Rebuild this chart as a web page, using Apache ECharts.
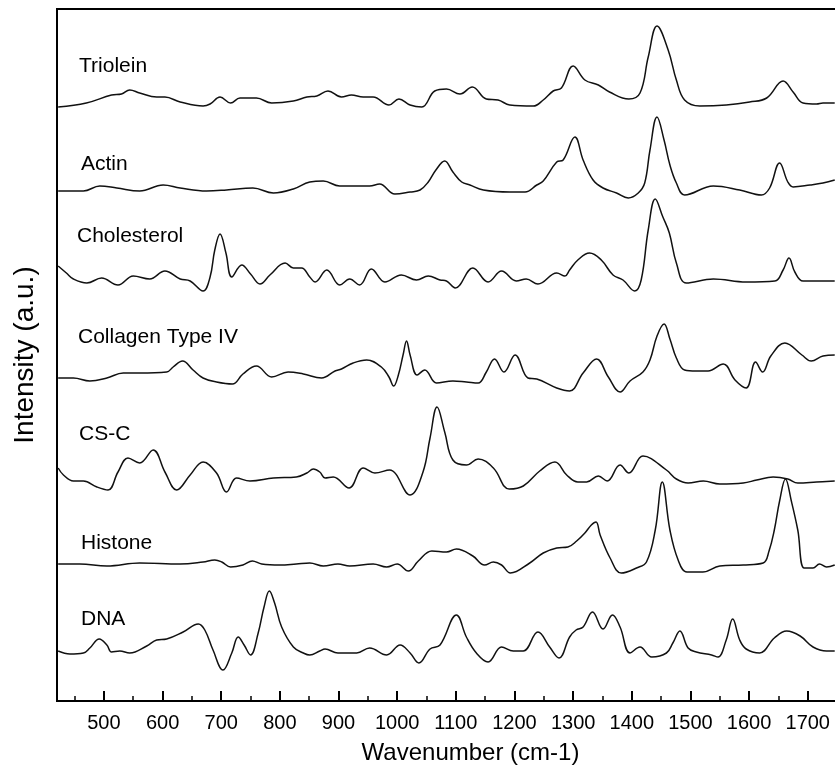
<!DOCTYPE html>
<html>
<head>
<meta charset="utf-8">
<script src="https://cdn.jsdelivr.net/npm/echarts@6/dist/echarts.min.js"></script>
<style>
  html, body { margin: 0; padding: 0; background: #fff; }
  #chart { width: 835px; height: 775px; }
</style>
</head>
<body>
<div id="chart"></div>
<script>
// wavenumber axis range (cm-1) and y range (a.u.)
const wavenumberRange = [420, 1830]
const intensityRange = [0, 692]

const spectrumNames = ['Triolein', 'Actin', 'Cholesterol', 'Collagen Type IV', 'CS-C', 'Histone', 'DNA']

// [wavenumber, intensity], spectra already offset
const triolein = [[422,594],[470,598],[513,606],[530,607],[544,611],[561,608],[590,604],[604,604],[630,599],[669,595],[681,597],[698,604],[716,598],[732,603],[760,603],[786,598],[823,600],[846,604],[863,605],[882,610],[905,604],[922,606],[942,604],[959,604],[986,596],[1003,602],[1022,596],[1042,594],[1064,610],[1084,612],[1107,607],[1128,614],[1152,602],[1172,601],[1192,596],[1232,595],[1249,601],[1266,610],[1280,613],[1300,635],[1320,621],[1343,616],[1362,609],[1395,602],[1414,608],[1428,644],[1443,675],[1462,651],[1476,621],[1490,601],[1516,595],[1561,596],[1601,599],[1630,603],[1658,620],[1675,609],[1692,598],[1715,597],[1726,598],[1746,598]]

const actin = [[422,510],[465,510],[493,515],[522,513],[561,510],[601,516],[630,513],[675,510],[709,511],[754,513],[789,508],[823,512],[851,519],[874,520],[902,515],[953,515],[970,517],[996,507],[1022,509],[1039,511],[1053,519],[1066,531],[1081,540],[1095,529],[1110,519],[1124,516],[1147,511],[1192,509],[1218,509],[1238,516],[1249,520],[1272,539],[1283,541],[1303,564],[1317,541],[1334,521],[1351,513],[1374,508],[1394,503],[1411,508],[1422,518],[1431,551],[1443,584],[1455,561],[1465,536],[1476,518],[1490,506],[1539,515],[1584,511],[1621,506],[1635,513],[1652,538],[1666,519],[1675,514],[1704,516],[1726,518],[1746,521]]

const cholesterol = [[422,435],[436,428],[448,422],[471,418],[496,423],[524,416],[550,425],[578,422],[604,430],[630,422],[647,420],[669,410],[681,424],[689,451],[698,467],[708,448],[718,424],[735,436],[750,427],[766,417],[783,426],[809,438],[823,433],[837,433],[851,424],[860,419],[880,431],[902,416],[919,422],[936,416],[956,432],[979,419],[1007,426],[1033,421],[1053,425],[1073,421],[1084,420],[1099,413],[1129,433],[1155,419],[1178,430],[1203,420],[1220,422],[1240,417],[1272,428],[1286,425],[1294,431],[1308,441],[1328,448],[1348,441],[1368,426],[1385,421],[1405,410],[1416,421],[1428,471],[1440,502],[1453,484],[1464,468],[1476,438],[1493,418],[1539,422],[1595,419],[1644,420],[1658,431],[1668,443],[1678,429],[1692,420],[1746,420]]

const collagenIV = [[422,323],[448,323],[476,320],[505,323],[533,328],[561,328],[607,329],[618,334],[634,340],[652,331],[669,323],[692,319],[719,317],[737,327],[760,335],[786,324],[814,329],[840,327],[871,323],[894,330],[905,332],[925,338],[948,341],[973,334],[986,324],[994,315],[1002,326],[1010,346],[1016,360],[1022,346],[1034,326],[1047,331],[1067,318],[1095,320],[1118,319],[1138,318],[1152,329],[1166,342],[1182,329],[1201,346],[1223,323],[1238,322],[1272,313],[1294,310],[1317,328],[1340,342],[1360,324],[1380,309],[1397,320],[1419,329],[1431,341],[1443,365],[1455,377],[1465,362],[1476,343],[1490,331],[1510,330],[1530,330],[1556,337],[1576,321],[1595,313],[1611,339],[1623,329],[1637,345],[1661,358],[1690,346],[1706,340],[1726,345],[1746,346]]

const csc = [[422,233],[431,226],[448,220],[465,220],[488,214],[507,211],[524,229],[541,243],[561,238],[584,251],[604,229],[624,211],[647,226],[669,239],[692,228],[709,209],[726,223],[749,220],[789,223],[828,224],[846,228],[857,232],[868,229],[877,223],[891,224],[918,213],[942,233],[962,228],[987,231],[1022,206],[1044,229],[1056,263],[1068,294],[1081,269],[1095,241],[1118,236],[1138,242],[1164,233],[1191,212],[1215,215],[1243,230],[1269,239],[1289,226],[1308,219],[1323,219],[1343,225],[1358,220],[1380,236],[1395,228],[1419,245],[1459,231],[1476,222],[1496,218],[1522,220],[1550,217],[1590,218],[1613,221],[1641,224],[1666,222],[1683,218],[1715,219],[1746,220]]

const histone = [[422,137],[459,137],[505,135],[561,138],[630,137],[669,139],[689,141],[701,139],[716,134],[737,136],[753,140],[769,137],[800,136],[828,137],[851,138],[874,135],[899,137],[919,135],[959,137],[982,134],[1000,137],[1019,130],[1036,140],[1059,150],[1084,149],[1101,152],[1129,145],[1149,136],[1164,139],[1178,136],[1193,128],[1226,138],[1249,148],[1272,153],[1291,154],[1306,160],[1320,168],[1331,176],[1339,179],[1346,166],[1363,143],[1382,128],[1408,133],[1425,139],[1440,171],[1452,219],[1465,171],[1479,141],[1494,129],[1521,129],[1550,135],[1590,136],[1624,138],[1634,150],[1643,171],[1652,200],[1662,222],[1672,200],[1683,171],[1694,133],[1709,133],[1720,137],[1732,134],[1746,136]]

const dna = [[422,50],[442,47],[465,48],[476,53],[492,62],[505,56],[513,49],[527,50],[544,48],[573,55],[590,61],[607,62],[635,69],[661,77],[672,71],[686,51],[703,31],[718,48],[729,64],[739,56],[750,46],[763,68],[773,94],[782,110],[791,98],[803,74],[823,54],[840,48],[851,46],[868,50],[877,52],[899,48],[931,48],[953,53],[982,46],[1005,56],[1022,48],[1037,38],[1056,52],[1073,56],[1101,86],[1118,64],[1135,48],[1155,39],[1178,54],[1198,50],[1215,50],[1240,69],[1260,54],[1276,43],[1294,64],[1305,71],[1317,74],[1333,89],[1351,72],[1367,86],[1380,74],[1397,48],[1414,54],[1434,44],[1459,48],[1470,58],[1482,70],[1496,53],[1510,49],[1536,46],[1547,44],[1561,61],[1572,82],[1584,61],[1595,52],[1618,48],[1643,63],[1664,70],[1687,65],[1709,54],[1732,50],[1746,50]]

const spectra = [triolein, actin, cholesterol, collagenIV, csc, histone, dna]

// where each name sits (px), left edge / cap centre
const labelAnchors = [[79, 66], [81, 164], [77, 236], [78, 337], [79, 434], [81, 543], [81, 619]]

const font = '"Liberation Sans", Arial, Helvetica, sans-serif'

const chart = echarts.init(document.getElementById('chart'))

chart.setOption({
  animation: false,
  grid: {
    left: 57, top: 9, width: 827, height: 692,
    outerBoundsMode: 'none',
    containLabel: false,
    show: true, borderColor: '#000', borderWidth: 2, backgroundColor: 'transparent'
  },
  xAxis: {
    type: 'value',
    min: wavenumberRange[0],
    max: wavenumberRange[1],
    splitNumber: 14,
    name: 'Wavenumber (cm-1)',
    nameLocation: 'middle',
    nameGap: 40,
    nameTextStyle: { color: '#000', fontSize: 24, fontFamily: font },
    axisLine: { onZero: false, lineStyle: { color: '#000', width: 2 } },
    axisTick: { inside: true, length: 10, lineStyle: { color: '#000', width: 2 } },
    minorTick: { show: true, splitNumber: 2, length: 5, lineStyle: { color: '#000', width: 1.5 } },
    axisLabel: {
      color: '#000', fontSize: 20, margin: 12, fontFamily: font,
      showMinLabel: false, showMaxLabel: false,
      formatter: v => String(v)
    },
    splitLine: { show: false },
    minorSplitLine: { show: false }
  },
  yAxis: {
    type: 'value',
    min: intensityRange[0],
    max: intensityRange[1],
    name: 'Intensity (a.u.)',
    nameLocation: 'middle',
    nameGap: 18,
    nameTextStyle: { color: '#000', fontSize: 28, fontFamily: font },
    axisLine: { show: true, onZero: false, lineStyle: { color: '#000', width: 2 } },
    axisTick: { show: false },
    axisLabel: { show: false },
    splitLine: { show: false }
  },
  graphic: spectrumNames.map((name, i) => ({
    type: 'text',
    x: labelAnchors[i][0],
    y: labelAnchors[i][1],
    style: { text: name, fill: '#000', fontSize: 21, fontFamily: font, textVerticalAlign: 'middle' }
  })),
  series: spectra.map((data, i) => ({
    name: spectrumNames[i],
    type: 'line',
    data: data,
    smooth: 0.4,
    symbol: 'none',
    clip: true,
    lineStyle: { color: '#111', width: 1.5 }
  }))
})
</script>
</body>
</html>
